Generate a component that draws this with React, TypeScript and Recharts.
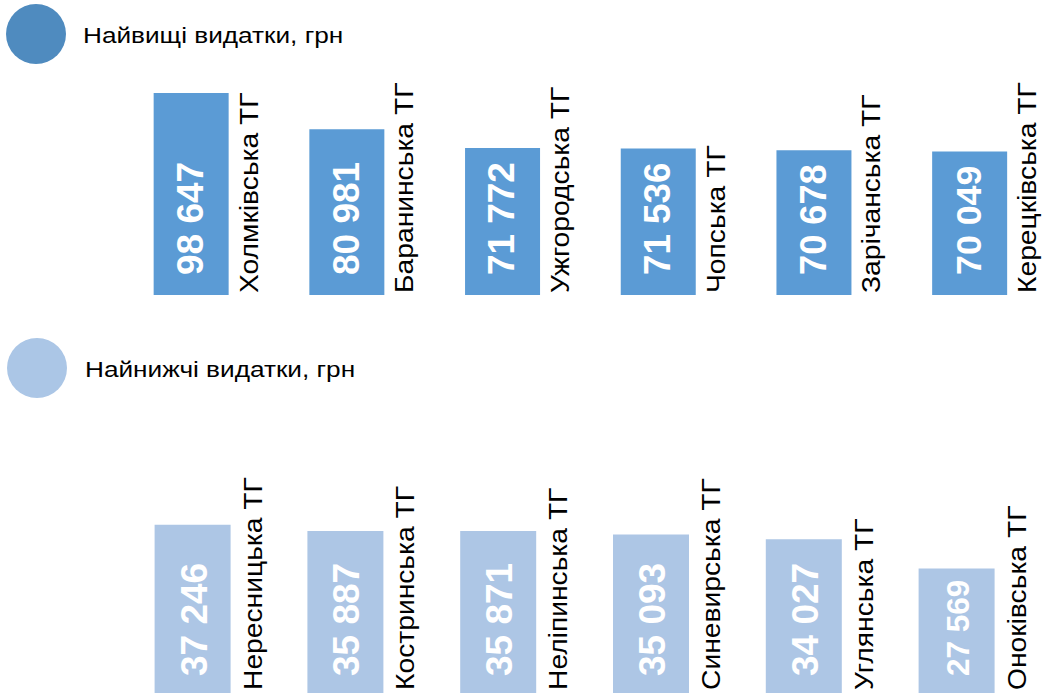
import React from 'react';
import { BarChart, Bar, XAxis, YAxis, LabelList } from 'recharts';

const topNames = ['Холмківська ТГ', 'Баранинська ТГ', 'Ужгородська ТГ', 'Чопська ТГ', 'Зарічанська ТГ', 'Керецківська ТГ'];
const topValues = [98647, 80981, 71772, 71536, 70678, 70049];
const bottomNames = ['Нересницька ТГ', 'Костринська ТГ', 'Неліпинська ТГ', 'Синевирська ТГ', 'Углянська ТГ', 'Оноківська ТГ'];
const bottomValues = [37246, 35887, 35871, 35093, 34027, 27569];

const topTitle = 'Найвищі видатки, грн';
const bottomTitle = 'Найнижчі видатки, грн';

const topData = topNames.map((name, i) => ({ name, value: topValues[i] }));
const bottomData = bottomNames.map((name, i) => ({ name, value: bottomValues[i] }));

const fmt = (v: number) => {
  const th = Math.floor(v / 1000);
  const r = String(v % 1000).padStart(3, '0');
  return `${th} ${r}`;
};

const makeValueLabel = (dxRatio: number, lift: number) => (props: any) => {
  const { x, y, width, height, value } = props;
  // shrink the font when the text would not fit inside the bar
  const fs = Math.min(37, (height - 2 * lift + 6) / 3.06);
  const cx = x + width / 2 + fs * dxRatio;
  const by = y + height - lift;
  return (
    <text
      x={0}
      y={0}
      transform={`translate(${cx},${by}) rotate(-90)`}
      textAnchor="start"
      fill="#ffffff"
      fontFamily="'Liberation Sans', Arial, sans-serif"
      fontWeight="bold"
      fontSize={fs}
    >
      {fmt(Number(value))}
    </text>
  );
};

const makeNameLabel = (gap: number, lift: number) => (props: any) => {
  const { x, y, width, height, value } = props;
  const lx = x + width + gap;
  const ly = y + height - lift;
  return (
    <text
      x={0}
      y={0}
      transform={`translate(${lx},${ly}) rotate(-90) scale(1.13,1)`}
      textAnchor="start"
      fill="#000000"
      fontFamily="'Liberation Sans', Arial, sans-serif"
      fontSize={25}
    >
      {value}
    </text>
  );
};

const legendText: React.CSSProperties = {
  position: 'absolute',
  fontFamily: '"Liberation Sans", Arial, sans-serif',
  fontSize: 22,
  color: '#000',
  whiteSpace: 'nowrap',
  lineHeight: '1',
  transform: 'scaleX(1.19)',
  transformOrigin: 'left top',
};

export default function App() {
  return (
    <div style={{ position: 'absolute', left: 0, top: 0, width: 1042, height: 699, background: '#fff', overflow: 'hidden' }}>
      <div style={{ position: 'absolute', left: 6, top: 4, width: 60, height: 60, borderRadius: '50%', background: '#4f8bbf' }} />
      <div style={{ ...legendText, left: 83, top: 25 }}>{topTitle}</div>
      <div style={{ position: 'absolute', left: 7, top: 338, width: 60, height: 60, borderRadius: '50%', background: '#abc6e6' }} />
      <div style={{ ...legendText, left: 85, top: 359 }}>{bottomTitle}</div>

      <div style={{ position: 'absolute', left: 0, top: 0 }}>
        <BarChart width={1042} height={300} data={topData} margin={{ top: 90.2, bottom: 5, left: 113.65, right: -5.85 }}>
          <XAxis dataKey="name" hide />
          <YAxis hide domain={[0, 100000]} />
          <Bar dataKey="value" fill="#5b9bd5" barSize={75} isAnimationActive={false}>
            <LabelList dataKey="value" content={makeValueLabel(0.32, 20)} />
            <LabelList dataKey="name" content={makeNameLabel(29, 2)} />
          </Bar>
        </BarChart>
      </div>

      <div style={{ position: 'absolute', left: 0, top: 400 }}>
        <BarChart width={1042} height={299} data={bottomData} margin={{ top: 112.4, bottom: 6, left: 116.6, right: 8.6 }}>
          <XAxis dataKey="name" hide />
          <YAxis hide domain={[0, 40000]} />
          <Bar dataKey="value" fill="#adc6e5" barSize={76} isAnimationActive={false}>
            <LabelList dataKey="value" content={makeValueLabel(0.38, 17)} />
            <LabelList dataKey="name" content={makeNameLabel(31, 3)} />
          </Bar>
        </BarChart>
      </div>
    </div>
  );
}
